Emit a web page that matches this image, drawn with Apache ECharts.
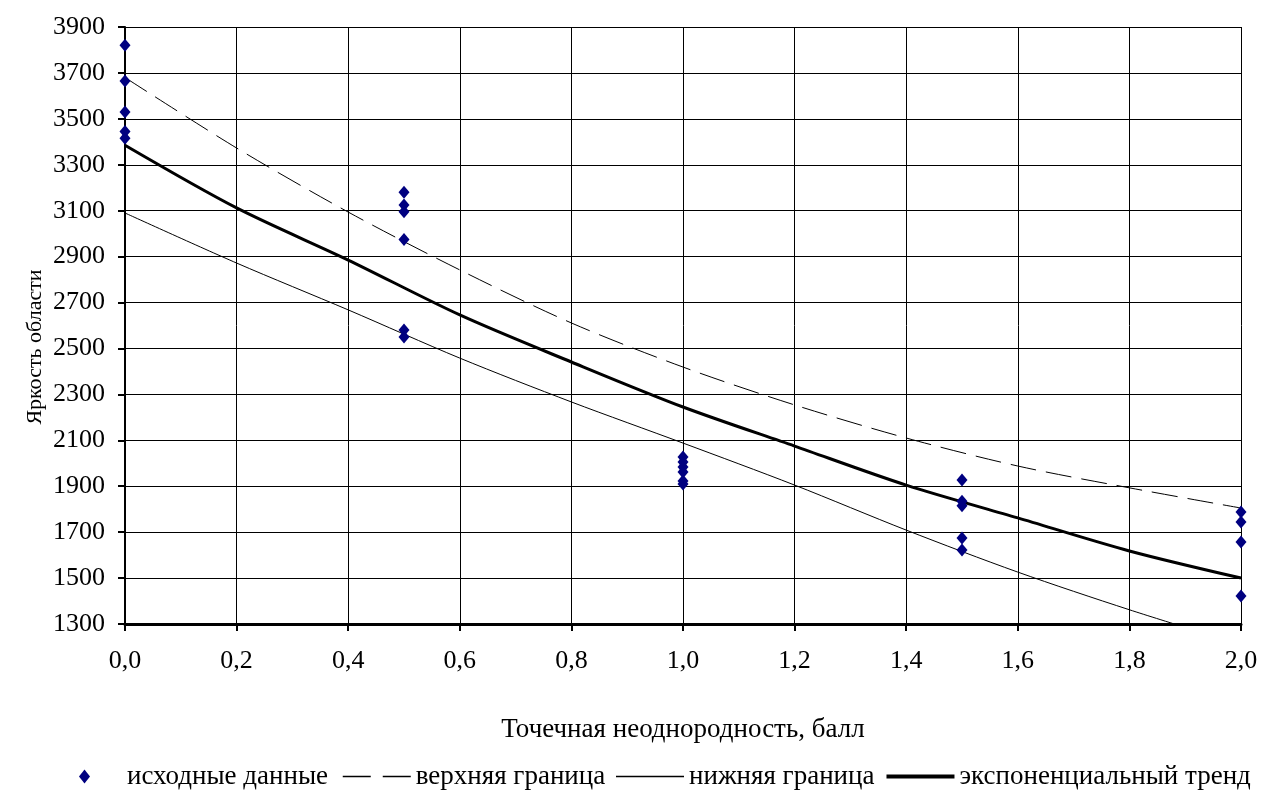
<!DOCTYPE html>
<html>
<head>
<meta charset="utf-8">
<script src="https://cdn.jsdelivr.net/npm/echarts@6/dist/echarts.min.js"></script>
<style>
  html, body { margin: 0; padding: 0; background: #fff; }
  #chart { width: 1261px; height: 792px; }
</style>
</head>
<body>
<div id="chart"></div>
<script>
// Measured points: spot irregularity score vs. region brightness
const pointX = [0, 0, 0, 0, 0,
                0.5, 0.5, 0.5, 0.5, 0.5, 0.5,
                1, 1, 1, 1, 1, 1,
                1.5, 1.5, 1.5, 1.5, 1.5,
                2, 2, 2, 2];
const pointY = [3820, 3665, 3530, 3445, 3415,
                3180, 3125, 3095, 2975, 2580, 2550,
                2027, 2005, 1984, 1962, 1923, 1910,
                1927, 1835, 1815, 1674, 1622,
                1788, 1744, 1657, 1422];

// Trend and confidence bounds sampled along the score axis
const lineX  = [0, 0.2, 0.4, 0.6, 0.8, 1.0, 1.2, 1.4, 1.6, 1.8, 2.0];
const upperY = [3680, 3373, 3094, 2842, 2611, 2419, 2254, 2110, 1988, 1893, 1805];
const trendY = [3385, 3112, 2885, 2646, 2441, 2245, 2075, 1905, 1762, 1618, 1500];
const lowerY = [3090, 2872, 2668, 2458, 2267, 2088, 1905, 1709, 1526, 1362, 1210];

const seriesNames = ['исходные данные', 'верхняя граница', 'нижняя граница', 'экспоненциальный тренд'];
const xTitle = 'Точечная неоднородность, балл';
const yTitle = 'Яркость области';

const pair = (xs, ys) => xs.map((x, i) => [x, ys[i]]);
const FONT = 'Liberation Serif';

// line-only legend swatch: keep the series line, hide its point marker
const lineKey = (name, lineStyle) => ({
  name,
  icon: 'inherit',
  itemStyle: { opacity: 0 },
  lineStyle: Object.assign({ color: '#000', opacity: 1 }, lineStyle)
});

const chart = echarts.init(document.getElementById('chart'), null, { renderer: 'canvas' });
chart.setOption({
  backgroundColor: '#ffffff',
  animation: false,
  textStyle: { fontFamily: FONT, color: '#000' },
  grid: { left: 125, right: 20, top: 27, bottom: 168, containLabel: false, outerBoundsMode: 'none' },
  xAxis: {
    type: 'value',
    min: 0, max: 2, interval: 0.2,
    name: xTitle,
    nameLocation: 'middle',
    nameGap: 92,
    nameTextStyle: { fontFamily: FONT, fontSize: 27, color: '#000' },
    axisLine: { lineStyle: { color: '#000', width: 3 } },
    axisTick: { length: 7, lineStyle: { color: '#000', width: 2 } },
    axisLabel: {
      fontFamily: FONT, fontSize: 26, color: '#000', margin: 24,
      formatter: v => v.toFixed(1).replace('.', ',')
    },
    splitLine: { show: true, lineStyle: { color: '#000', width: 1 } }
  },
  yAxis: {
    type: 'value',
    min: 1300, max: 3900, interval: 200,
    axisLine: { show: true, lineStyle: { color: '#000', width: 2 } },
    axisTick: { show: true, length: 7, lineStyle: { color: '#000', width: 2 } },
    axisLabel: {
      fontFamily: FONT, fontSize: 26, color: '#000', margin: 20,
      formatter: v => String(v)
    },
    splitLine: { show: true, lineStyle: { color: '#000', width: 1 } }
  },
  graphic: [{
    type: 'text',
    x: 35, y: 347,
    rotation: Math.PI / 2,
    style: {
      text: yTitle, fill: '#000',
      font: '22px "Liberation Serif"',
      align: 'center', verticalAlign: 'middle'
    }
  }],
  legend: [
    {
      top: 763, left: 79, padding: 0,
      itemWidth: 11, itemHeight: 14,
      symbolKeepAspect: false,
      textStyle: { fontFamily: FONT, fontSize: 27, color: '#000', padding: [0, 0, 0, 32] },
      data: [{ name: seriesNames[0], icon: 'diamond' }]
    },
    {
      top: 763, left: 342, width: 919, padding: 0,
      itemWidth: 68, itemHeight: 14, itemGap: 10,
      textStyle: { fontFamily: FONT, fontSize: 27, color: '#000' },
      data: [
        lineKey(seriesNames[1], { width: 1.5, type: [28, 12] }),
        lineKey(seriesNames[2], { width: 1.5, type: 'solid' }),
        lineKey(seriesNames[3], { width: 4, type: 'solid' })
      ]
    }
  ],
  series: [
    {
      name: seriesNames[0], type: 'scatter',
      data: pair(pointX, pointY),
      symbol: 'diamond', symbolSize: [11, 13],
      itemStyle: { color: '#000080', opacity: 1 },
      z: 5
    },
    {
      name: seriesNames[1], type: 'line',
      data: pair(lineX, upperY),
      smooth: 0.3, showSymbol: false, symbol: 'none',
      lineStyle: { color: '#000', width: 1, type: [26, 10] },
      itemStyle: { color: '#000' }
    },
    {
      name: seriesNames[2], type: 'line',
      data: pair(lineX, lowerY),
      smooth: 0.3, showSymbol: false, symbol: 'none', clip: true,
      lineStyle: { color: '#000', width: 1 },
      itemStyle: { color: '#000' }
    },
    {
      name: seriesNames[3], type: 'line',
      data: pair(lineX, trendY),
      smooth: 0.3, showSymbol: false, symbol: 'none',
      lineStyle: { color: '#000', width: 3 },
      itemStyle: { color: '#000' }
    }
  ]
});
</script>
</body>
</html>
